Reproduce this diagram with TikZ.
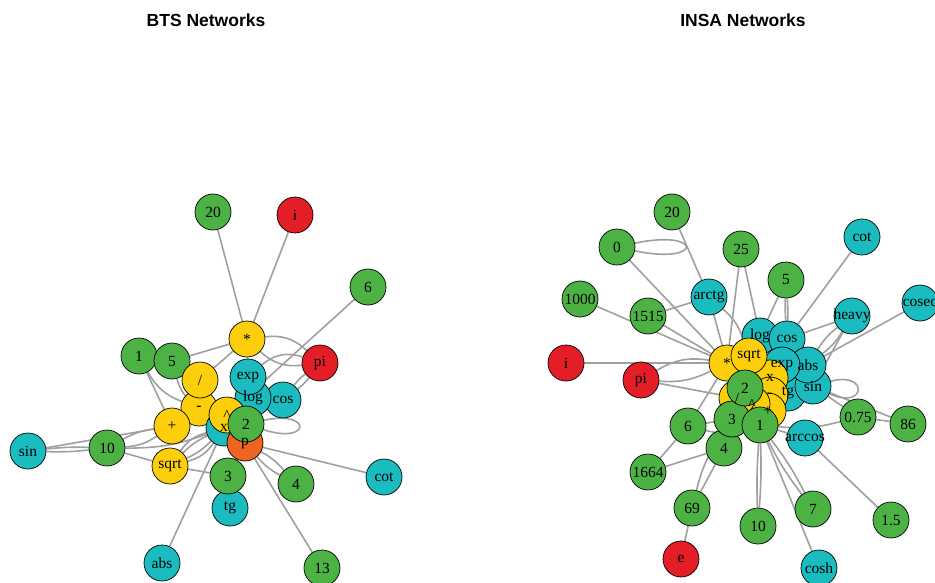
\documentclass[tikz,border=0pt]{standalone}
\usepackage{fontspec}
\setmainfont{Liberation Serif}
\newfontfamily\titlefont{Liberation Sans}
\usepackage{tikz}
\usetikzlibrary{backgrounds}
\definecolor{vgreen}{RGB}{77,178,68}
\definecolor{vcyan}{RGB}{26,188,192}
\definecolor{vyellow}{RGB}{253,206,12}
\definecolor{vred}{RGB}{228,30,38}
\definecolor{vorange}{RGB}{240,100,34}
\definecolor{egray}{RGB}{160,160,160}

\begin{document}
\begin{tikzpicture}[x=1pt, y=-1pt,
    vtx/.style={circle, draw=black, line width=0.7pt, minimum size=36pt, inner sep=0pt},
    gv/.style={vtx, fill=vgreen}, cv/.style={vtx, fill=vcyan}, yv/.style={vtx, fill=vyellow},
    rv/.style={vtx, fill=vred}, ov/.style={vtx, fill=vorange},
    lbl/.style={font=\fontsize{15.5}{15.5}\selectfont, inner sep=0pt},
    edge/.style={draw=egray, line width=1.6pt},
    ttl/.style={font=\titlefont\bfseries\fontsize{17.5}{18}\selectfont}]
  \clip (0,0) rectangle (935,583);
  \node[ttl] (bts-title) at (206,20) {BTS Networks};
  \node[ttl] (insa-title) at (743,20) {INSA Networks};
  % BTS vertices
  \node[gv] (b20) at (213,212) {};
  \node[rv] (bi) at (295,215) {};
  \node[gv] (b6) at (368,287) {};
  \node[yv] (bStar) at (247,339) {};
  \node[gv] (b1) at (139,356) {};
  \node[gv] (b5) at (172,361) {};
  \node[rv] (bpi) at (320,363) {};
  \node[cv] (bcos) at (283,400) {};
  \node[cv] (blog) at (253,398) {};
  \node[cv] (bexp) at (248,377) {};
  \node[yv] (bMin) at (199,408) {};
  \node[yv] (bDiv) at (200,380) {};
  \node[cv] (bx) at (224,428) {};
  \node[yv] (bPow) at (227,415) {};
  \node[ov] (bp) at (245,443) {};
  \node[gv] (b2) at (246,424) {};
  \node[yv] (bPlus) at (172,426) {};
  \node[gv] (b10) at (107,448) {};
  \node[cv] (bsin) at (28,451) {};
  \node[yv] (bsqrt) at (170,466) {};
  \node[cv] (btg) at (230,508) {};
  \node[gv] (b3) at (228,476) {};
  \node[gv] (b4) at (296,484) {};
  \node[cv] (bcot) at (384,477) {};
  \node[cv] (babs) at (162,563) {};
  \node[gv] (b13) at (322,568) {};
  % INSA vertices
  \node[gv] (n20) at (672,212) {};
  \node[gv] (n0) at (617,247) {};
  \node[gv] (n25) at (741,249) {};
  \node[cv] (ncot) at (862,237) {};
  \node[gv] (n5) at (786,280) {};
  \node[gv] (n1000) at (580,299) {};
  \node[cv] (narctg) at (709,297) {};
  \node[gv] (n1515) at (648,316) {};
  \node[cv] (nheavy) at (852,316) {};
  \node[cv] (ncosec) at (920,303) {};
  \node[rv] (ni) at (566,363) {};
  \node[rv] (npi) at (641,380) {};
  \node[cv] (nlog) at (760,336) {};
  \node[cv] (ncos) at (787,339) {};
  \node[cv] (ntg) at (788,393) {};
  \node[cv] (nsin) at (813,386) {};
  \node[cv] (nabs) at (808,365) {};
  \node[cv] (nexp) at (782,365) {};
  \node[yv] (nx) at (770,378) {};
  \node[yv] (nMin) at (770,395) {};
  \node[yv] (nPlus) at (768,411) {};
  \node[yv] (nPow) at (752,404) {};
  \node[yv] (nDiv) at (737,398) {};
  \node[yv] (nStar) at (727,363) {};
  \node[yv] (nsqrt) at (749,356) {};
  \node[gv] (n4) at (724,448) {};
  \node[gv] (n3) at (732,419) {};
  \node[gv] (n1) at (760,425) {};
  \node[gv] (n2) at (745,388) {};
  \node[gv] (n6) at (688,426) {};
  \node[gv] (n075) at (858,417) {};
  \node[gv] (n86) at (908,424) {};
  \node[cv] (narccos) at (805,438) {};
  \node[gv] (n1664) at (648,472) {};
  \node[gv] (n69) at (692,508) {};
  \node[gv] (n10) at (758,526) {};
  \node[gv] (n7) at (813,509) {};
  \node[gv] (n15) at (891,520) {};
  \node[rv] (ne) at (681,559) {};
  \node[cv] (ncosh) at (819,568) {};
  % labels on top of all vertices
  \foreach \v/\t in {b20/20, bi/i, b6/6, bStar/*, b1/1, b5/5, bpi/pi, bcos/cos, blog/log,
      bexp/exp, bMin/-, bDiv/{/}, bx/x, bPow/{\textasciicircum}, bp/p, b2/2, bPlus/+,
      b10/10, bsin/sin, bsqrt/sqrt, btg/tg, b3/3, b4/4, bcot/cot, babs/abs, b13/13,
      n20/20, n0/0, n25/25, ncot/cot, n5/5, n1000/1000, narctg/arctg, n1515/1515,
      nheavy/heavy, ncosec/cosec, ni/i, npi/pi, nlog/log, ncos/cos, ntg/tg, nsin/sin,
      nabs/abs, nexp/exp, nx/x, nMin/-, nPlus/+, nPow/{\textasciicircum}, nDiv/{/},
      nStar/*, nsqrt/sqrt, n4/4, n3/3, n1/1, n2/2, n6/6, n075/0.75, n86/86,
      narccos/arccos, n1664/1664, n69/69, n10/10, n7/7, n15/1.5, ne/e, ncosh/cosh}
    \node[lbl] (\v-t) at (\v) {\t};
  % edges behind the vertices
  \begin{scope}[on background layer]
    \fill[white] (0,0) rectangle (935,583);
    \draw[edge] (b20) -- (bStar); \draw[edge] (bi) -- (bStar); \draw[edge] (b6) -- (bPow);
    \draw[edge] (b5) -- (bStar); \draw[edge] (b1) -- (bPlus);
    \draw[edge] (bStar) to[bend left=25] (bpi); \draw[edge] (bStar) to[bend right=25] (bpi);
    \draw[edge] (bpi) to[bend left=8] (bcos); \draw[edge] (bpi) to[bend right=8] (bcos);
    \draw[edge] (bpi) to[bend right=30] (bexp);
    \draw[edge] (bsin) to[bend left=4] (b10); \draw[edge] (bsin) to[bend right=4] (b10);
    \draw[edge] (bsin) -- (bPlus);
    \draw[edge] (b10) to[bend left=10] (bPlus); \draw[edge] (b10) to[bend right=15] (bPlus);
    \draw[edge] (b10) to[bend right=10] (bx); \draw[edge] (b10) -- (bsqrt);
    \draw[edge] (bsqrt) -- (b3);
    \draw[edge] (bsqrt) to[bend left=20] (bx); \draw[edge] (bsqrt) to[bend right=20] (bx);
    \draw[edge] (bsqrt) to[bend left=10] (bx); \draw[edge] (bsqrt) to[bend right=10] (bx);
    \draw[edge] (babs) -- (bx); \draw[edge] (b13) -- (bp); \draw[edge] (bcot) -- (bp);
    \draw[edge] (b4) to[bend left=10] (bp); \draw[edge] (b4) to[bend right=10] (bp);
    \draw[edge] (b3) -- (bp);
    \draw[edge] (b1) to[bend right=20] (bMin); \draw[edge] (b5) to[bend right=30] (bPow);
    \draw[edge] (bStar) -- (bDiv); \draw[edge] (bStar) -- (bexp); \draw[edge] (bDiv) -- (bx);
    \draw[edge] (blog) -- (bp); \draw[edge] (bexp) -- (bcos); \draw[edge] (bMin) -- (bp);
    \draw[edge] (b2) to[out=12, in=-18, min distance=50pt] (b2);
    % INSA edges
    \draw[edge] (n20) -- (narctg);
    \draw[edge] (n0) to[out=12, in=-12, min distance=70pt] (n0);
    \draw[edge] (n0) -- (nStar); \draw[edge] (n1000) -- (nStar);
    \draw[edge] (n1515) -- (narctg); \draw[edge] (n1515) -- (nStar);
    \draw[edge] (narctg) -- (nStar); \draw[edge] (narctg) to[bend left=15] (nsqrt);
    \draw[edge] (n25) -- (nStar); \draw[edge] (n25) -- (nlog);
    \draw[edge] (n5) -- (nlog);
    \draw[edge] (n5) to[bend left=3] (ncos); \draw[edge] (n5) to[bend right=3] (ncos);
    \draw[edge] (ncot) -- (ncos);
    \draw[edge] (nheavy) -- (ncos); \draw[edge] (nheavy) -- (nsin);
    \draw[edge] (nheavy) to[bend left=10] (nabs); \draw[edge] (nheavy) to[bend right=10] (nabs);
    \draw[edge] (ncosec) -- (nabs);
    \draw[edge] (ni) -- (nStar);
    \draw[edge] (npi) to[bend left=20] (nStar); \draw[edge] (npi) to[bend right=15] (nStar);
    \draw[edge] (npi) -- (nDiv);
    \draw[edge] (n6) -- (nStar); \draw[edge] (n6) -- (n3); \draw[edge] (n6) -- (n1664);
    \draw[edge] (n6) to[bend right=15] (n1);
    \draw[edge] (n1664) -- (n4);
    \draw[edge] (n69) -- (n4); \draw[edge] (n69) to[bend left=10] (n3); \draw[edge] (n69) -- (ne);
    \draw[edge] (n10) to[bend left=3] (n1); \draw[edge] (n10) to[bend right=3] (n1);
    \draw[edge] (n7) to[bend left=5] (n1); \draw[edge] (n7) to[bend right=5] (n1);
    \draw[edge] (ncosh) -- (n1); \draw[edge] (n15) -- (narccos); \draw[edge] (narccos) -- (n1);
    \draw[edge] (n075) -- (nsin); \draw[edge] (n075) -- (n86); \draw[edge] (n86) -- (nsin);
    \draw[edge] (n075) to[bend left=10] (n1);
    \draw[edge] (nsin) to[out=15, in=-25, min distance=40pt] (nsin);
  \end{scope}
\end{tikzpicture}
\end{document}
